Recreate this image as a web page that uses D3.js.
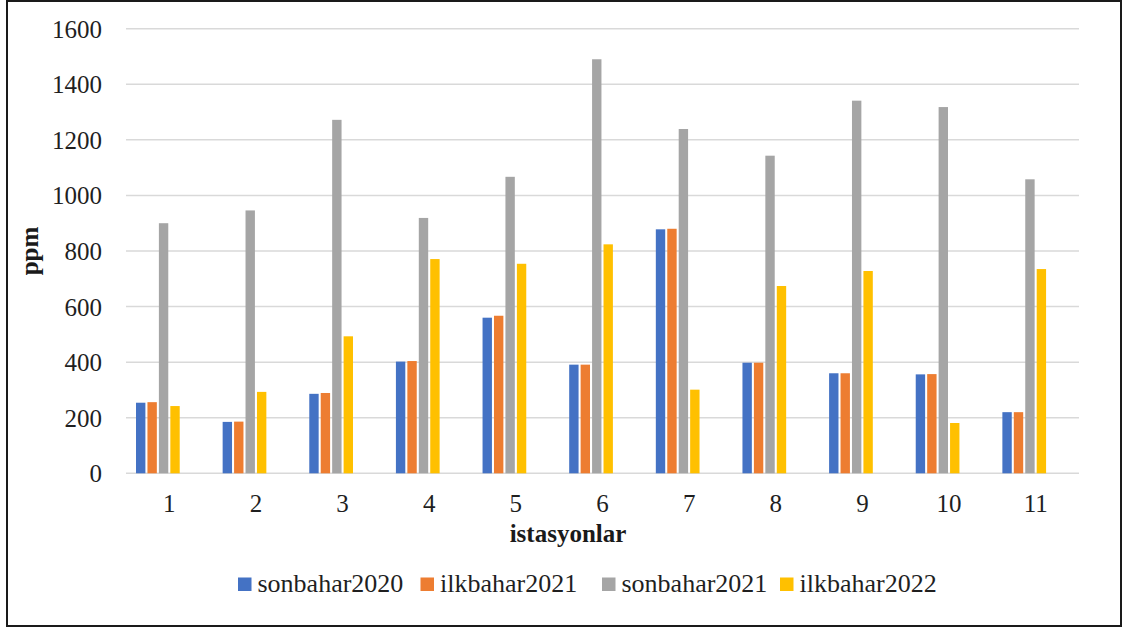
<!DOCTYPE html>
<html>
<head>
<meta charset="utf-8">
<script src="https://cdn.jsdelivr.net/npm/d3@7/dist/d3.min.js"></script>
<style>
  html, body { margin: 0; padding: 0; background: #fff; }
  svg { display: block; }
</style>
</head>
<body>
<svg id="chart" width="1125" height="630"></svg>
<script>
// Stations (x categories)
const stations = ["1", "2", "3", "4", "5", "6", "7", "8", "9", "10", "11"];

// Series names shown in the legend
const seriesNames = ["sonbahar2020", "ilkbahar2021", "sonbahar2021", "ilkbahar2022"];

// Measured concentrations (ppm) per station, one array per season
const sonbahar2020 = [254, 185, 286, 402, 560, 391, 878, 398, 360, 356, 220];
const ilkbahar2021 = [256, 186, 289, 404, 567, 391, 880, 398, 360, 357, 220];
const sonbahar2021 = [900, 946, 1272, 919, 1067, 1490, 1239, 1143, 1341, 1318, 1058];
const ilkbahar2022 = [242, 293, 493, 771, 754, 824, 301, 674, 728, 181, 735];

// Y axis ticks
const yTicks = [0, 200, 400, 600, 800, 1000, 1200, 1400, 1600];

const seriesValues = [sonbahar2020, ilkbahar2021, sonbahar2021, ilkbahar2022];
const colors = ["#4472C4", "#ED7D31", "#A5A5A5", "#FFC000"];
const FONT = "'Liberation Serif', 'Times New Roman', serif";

const svg = d3.select("#chart");

// outer frame
svg.append("rect")
  .attr("x", 7).attr("y", 1)
  .attr("width", 1114).attr("height", 625)
  .attr("fill", "#fff")
  .attr("stroke", "#1a1a1a")
  .attr("stroke-width", 2);

const plot = { left: 126, right: 1079, top: 28.7, bottom: 473.3 };

const x0 = d3.scaleBand()
  .domain(stations)
  .range([plot.left, plot.right])
  .paddingInner(0).paddingOuter(0);

// bars sit in the left part of each category slot
const bw = x0.bandwidth();
const x1 = d3.scaleBand()
  .domain(seriesNames)
  .range([bw * 0.1155, bw * 0.62])
  .paddingInner(0.18)
  .paddingOuter(0);

const y = d3.scaleLinear()
  .domain([0, 1600])
  .range([plot.bottom, plot.top]);

// gridlines
svg.append("g")
  .selectAll("line")
  .data(yTicks)
  .join("line")
  .attr("x1", plot.left).attr("x2", plot.right)
  .attr("y1", d => y(d)).attr("y2", d => y(d))
  .attr("stroke", "#D9D9D9")
  .attr("stroke-width", 1.5);

// y tick labels
const yAxis = d3.axisLeft(y).tickValues(yTicks).tickFormat(d3.format("d")).tickSize(0).tickPadding(0);
const gy = svg.append("g")
  .attr("transform", `translate(${102},0)`)
  .call(yAxis);
gy.select(".domain").remove();
gy.selectAll("text")
  .style("font-family", FONT)
  .style("font-size", "25px")
  .attr("fill", "#1f1f1f")
  .attr("dy", "0.34em");

// bars
const rows = stations.map((s, i) => ({ station: s, values: seriesNames.map((n, k) => ({ name: n, k, v: seriesValues[k][i] })) }));

svg.append("g")
  .selectAll("g")
  .data(rows)
  .join("g")
  .attr("transform", d => `translate(${x0(d.station)},0)`)
  .selectAll("rect")
  .data(d => d.values)
  .join("rect")
  .attr("x", d => x1(d.name))
  .attr("width", x1.bandwidth())
  .attr("y", d => y(d.v))
  .attr("height", d => y(0) - y(d.v))
  .attr("fill", d => colors[d.k]);

// x tick labels
const xAxis = d3.axisBottom(x0).tickSize(0).tickPadding(0);
const gx = svg.append("g")
  .attr("transform", `translate(0,${plot.bottom})`)
  .call(xAxis);
gx.select(".domain").remove();
gx.selectAll("text")
  .style("font-family", FONT)
  .style("font-size", "25px")
  .attr("fill", "#1f1f1f")
  .attr("dy", null)
  .attr("y", 39);

// axis titles
svg.append("text")
  .attr("x", 568).attr("y", 541.7)
  .attr("text-anchor", "middle")
  .style("font-family", FONT)
  .style("font-size", "25px")
  .style("font-weight", "bold")
  .attr("fill", "#1a1a1a")
  .text("istasyonlar");

svg.append("text")
  .attr("transform", "translate(38,251) rotate(-90)")
  .attr("text-anchor", "middle")
  .style("font-family", FONT)
  .style("font-size", "25px")
  .style("font-weight", "bold")
  .attr("fill", "#1a1a1a")
  .text("ppm");

// legend
const legendStarts = [238, 420.5, 602, 780];
const legend = svg.append("g");
seriesNames.forEach((n, k) => {
  const g = legend.append("g").attr("transform", `translate(${legendStarts[k]},0)`);
  g.append("rect")
    .attr("x", 0).attr("y", 577.5)
    .attr("width", 13.5).attr("height", 13.5)
    .attr("fill", colors[k]);
  g.append("text")
    .attr("x", 19.5).attr("y", 591.7)
    .style("font-family", FONT)
    .style("font-size", "26px")
    .attr("fill", "#1f1f1f")
    .text(n);
});
</script>
</body>
</html>
